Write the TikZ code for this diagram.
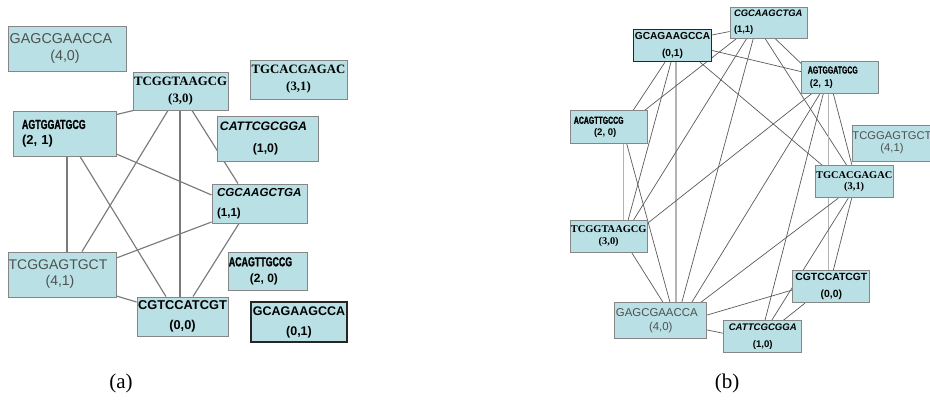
\documentclass[tikz,border=0pt]{standalone}
\usepackage{fontspec}
\setmainfont{Liberation Serif}
\newfontfamily\fsans{Liberation Sans}
\newfontfamily\fserif{Liberation Serif}
\newfontfamily\fnarrow[FakeStretch=0.68,FakeBold=1.2]{Liberation Sans}
\pgfdeclarelayer{edges}
\pgfsetlayers{edges,main}
\definecolor{boxfill}{HTML}{B9E0E4}
\definecolor{boxline}{HTML}{868686}
\definecolor{edgea}{HTML}{7A7A7A}
\definecolor{edgeb}{HTML}{5A5A5A}
\definecolor{edgev}{HTML}{B4B4B4}
\definecolor{greytext}{HTML}{505050}
\tikzset{
  sbox/.style 2 args={rectangle, draw=boxline, line width=0.9pt, fill=boxfill,
    inner sep=0pt, minimum width=#1, minimum height=#2, align=center},
  darkbox/.style={draw=black!85, line width=1.4pt},
  ea/.style={draw=edgea, line width=1.15pt},
  eb/.style={draw=edgeb, line width=0.7pt},
  ev/.style={draw=edgev, line width=1.6pt},
  caption/.style={font=\fserif\fontsize{21}{24}\selectfont, inner sep=0pt},
}
\begin{document}
\begin{tikzpicture}[x=1pt,y=-1pt]
\useasboundingbox (0,0) rectangle (930,411);

% ---------------- panel (a) ----------------
\node[sbox={118pt}{45pt}, font=\fsans\fontsize{14.3}{17}\selectfont, text=greytext] (a40) at (67,48.5)
  {GAGCGAACCA\hspace*{12pt}\\(4,0)\hspace*{4pt}};
\node[sbox={95pt}{38pt}, font=\fserif\bfseries\fontsize{12.8}{17}\selectfont] (a30) at (180.5,91)
  {TCGGTAAGCG\\(3,0)};
\node[sbox={97pt}{39pt}, font=\fserif\bfseries\fontsize{12.8}{17}\selectfont] (a31) at (298.5,79.5)
  {TGCACGAGAC\\(3,1)};
\node[sbox={103pt}{45pt}, align=left, text width=85pt, font=\fontsize{13}{15.5}\selectfont] (a21) at (64.5,133.5)
  {\fnarrow\bfseries AGTGGATGCG\\\fsans\bfseries (2, 1)};
\node[sbox={101pt}{45pt}, font=\fsans\bfseries\fontsize{12.3}{22}\selectfont] (a10) at (267.5,138.5)
  {\itshape CATTCGCGGA\hspace*{8pt}\\\upshape (1,0)\hspace*{4pt}};
\node[sbox={95pt}{39pt}, align=left, text width=85pt, font=\fsans\bfseries\fontsize{11.6}{19.5}\selectfont] (a11) at (259.5,203.5)
  {\itshape CGCAAGCTGA\\\upshape (1,1)};
\node[sbox={108pt}{45pt}, font=\fsans\fontsize{14}{16}\selectfont, text=greytext] (a41) at (62,274.5)
  {TCGGAGTGCT\hspace*{8pt}\\(4,1)\hspace*{4pt}};
\node[sbox={79pt}{38pt}, font=\fontsize{13}{16}\selectfont] (a20) at (267.5,271)
  {\fnarrow\bfseries ACAGTTGCCG\hspace*{14pt}\\\fsans\bfseries\fontsize{12}{16}\selectfont (2, 0)\hspace*{7pt}};
\node[sbox={91pt}{39pt}, font=\fsans\bfseries\fontsize{12.8}{20.5}\selectfont] (a00) at (182.5,316.5)
  {CGTCCATCGT\\(0,0)};
\node[sbox={96pt}{40pt}, darkbox, font=\fsans\bfseries\fontsize{12.5}{20}\selectfont] (a01) at (299,322)
  {GCAGAAGCCA\\(0,1)};

% ---------------- panel (b) ----------------
\node[sbox={78pt}{32pt}, darkbox, font=\fsans\bfseries\fontsize{10.2}{16.5}\selectfont] (b01) at (672.5,45.5)
  {GCAGAAGCCA\\(0,1)};
\node[sbox={77pt}{31pt}, align=left, text width=69pt, font=\fsans\bfseries\fontsize{9.4}{16}\selectfont] (b11) at (768.5,22.5)
  {\itshape CGCAAGCTGA\\\upshape (1,1)};
\node[sbox={77pt}{32pt}, align=left, text width=65pt, font=\fontsize{10.2}{12.5}\selectfont] (b21) at (840.3,77.2)
  {\fnarrow\bfseries AGTGGATGCG\\\fsans\bfseries\fontsize{9.6}{12.5}\selectfont\hspace*{2pt}(2, 1)};
\node[sbox={77pt}{32.5pt}, font=\fontsize{10.2}{11.5}\selectfont] (b20) at (608.7,127)
  {\fnarrow\bfseries ACAGTTGCCG\hspace*{20pt}\\\fsans\bfseries\fontsize{9.6}{11.5}\selectfont (2, 0)\hspace*{7pt}};
\node[sbox={80pt}{36pt}, font=\fsans\fontsize{11.2}{12.5}\selectfont, text=greytext] (b41) at (892,143)
  {TCGGAGTGCT\\(4,1)};
\node[sbox={78pt}{32pt}, font=\fserif\bfseries\fontsize{10.4}{10.5}\selectfont] (b31) at (854.2,181.7)
  {TGCACGAGAC\\(3,1)};
\node[sbox={77pt}{32pt}, font=\fserif\bfseries\fontsize{10.4}{12.5}\selectfont] (b30) at (608.7,236.2)
  {TCGGTAAGCG\\(3,0)};
\node[sbox={77pt}{32pt}, font=\fsans\bfseries\fontsize{10.4}{16.5}\selectfont] (b00) at (831.3,286.7)
  {CGTCCATCGT\\(0,0)};
\node[sbox={92pt}{36pt}, font=\fsans\fontsize{11.4}{13.5}\selectfont, text=greytext] (b40) at (660.8,320.8)
  {GAGCGAACCA\hspace*{8pt}\\(4,0)};
\node[sbox={78pt}{32pt}, font=\fsans\bfseries\fontsize{9.6}{16.5}\selectfont] (b10) at (762.8,336.8)
  {\itshape CATTCGCGGA\\\upshape (1,0)};

% captions
\node[caption] (capa) at (121,383) {(a)};
\node[caption] (capb) at (727,383) {(b)};

\begin{pgfonlayer}{edges}
% edges (a)
\draw[ea] ([xshift=1pt]a30.south west) -- ([yshift=-4pt]a21.north east);
\draw[ea] ([xshift=-12.5pt]a30.south) -- ([xshift=20pt]a41.north);
\draw[ea] ([xshift=-0.5pt]a30.south) -- ([xshift=-2.5pt]a00.north);
\draw[ea] ([xshift=11.5pt]a30.south) -- ([xshift=-21.5pt]a11.north);
\draw[ea] ([xshift=2.5pt]a21.south) -- ([xshift=5pt]a41.north);
\draw[ea] ([xshift=15.5pt]a21.south) -- ([xshift=-16.5pt]a00.north);
\draw[ea] ([yshift=-20.5pt]a21.east) -- ([yshift=8.5pt]a11.west);
\draw[ea] ([yshift=16.5pt]a41.east) -- ([yshift=-18.5pt]a11.west);
\draw[ea] ([yshift=-21.5pt]a41.east) -- ([yshift=14.5pt]a00.west);
\draw[ea] ([xshift=-20.5pt]a11.south) -- ([xshift=10.5pt]a00.north);
% edges (b)
\draw[eb] ([yshift=10.5pt]b01.east) -- ([yshift=-9pt]b11.west);
\draw[eb] ([yshift=-5pt]b01.east) -- ([yshift=5.5pt]b21.west);
\draw[eb] ([xshift=-7.5pt]b01.south) -- ([xshift=24.5pt]b20.north);
\draw[eb] ([xshift=-1.5pt]b01.south) -- ([xshift=19.5pt]b30.north);
\draw[ev] ([xshift=3.5pt]b01.south) -- ([xshift=15.2pt]b40.north);
\draw[eb] ([xshift=27.5pt]b01.south) -- ([xshift=-32pt]b31.north);
\draw[eb] ([xshift=-31.8pt]b11.south) -- ([xshift=36pt]b20.north);
\draw[eb] ([xshift=-21.8pt]b11.south) -- ([xshift=25pt]b30.north);
\draw[eb] ([xshift=-15.2pt]b11.south) -- ([xshift=21pt]b40.north);
\draw[eb] ([xshift=-3.5pt]b11.south) -- ([xshift=-7.5pt]b31.north);
\draw[eb] ([xshift=6.5pt]b11.south) -- ([yshift=-3pt]b21.north west);
\draw[eb] ([xshift=-28.6pt]b21.south) -- ([yshift=13pt]b30.east);
\draw[eb] ([xshift=-20.3pt]b21.south) -- ([xshift=31pt]b40.north);
\draw[eb] ([xshift=-17pt]b21.south) -- ([xshift=2.2pt]b10.north);
\draw[ev] ([xshift=-12pt]b21.south) -- ([xshift=-3pt]b00.north);
\draw[eb] ([xshift=-7pt]b21.south) -- ([xshift=-2.2pt]b31.north);
\draw[eb] ([xshift=-15.9pt]b31.south) -- ([xshift=40pt]b40.north);
\draw[eb] ([xshift=-5.9pt]b31.south) -- ([xshift=8.9pt]b10.north);
\draw[eb] ([xshift=-2.5pt]b31.south) -- ([xshift=2pt]b00.north);
\draw[eb] ([yshift=-3.3pt]b00.west) -- ([yshift=5.8pt]b40.east);
\draw[eb] ([xshift=-26.3pt]b00.south) -- ([xshift=20.5pt]b10.north);
\draw[eb] ([yshift=-9.2pt]b40.east) -- ([yshift=3.5pt]b10.west);
\draw[eb] ([xshift=18pt]b20.south) -- ([xshift=9.2pt]b40.north);
\draw[eb] ([xshift=23pt]b30.south) -- ([xshift=2.2pt]b40.north);
\draw[ev] ([xshift=14.6pt]b20.south) -- ([xshift=14.6pt]b30.north);
\end{pgfonlayer}
\end{tikzpicture}
\end{document}
